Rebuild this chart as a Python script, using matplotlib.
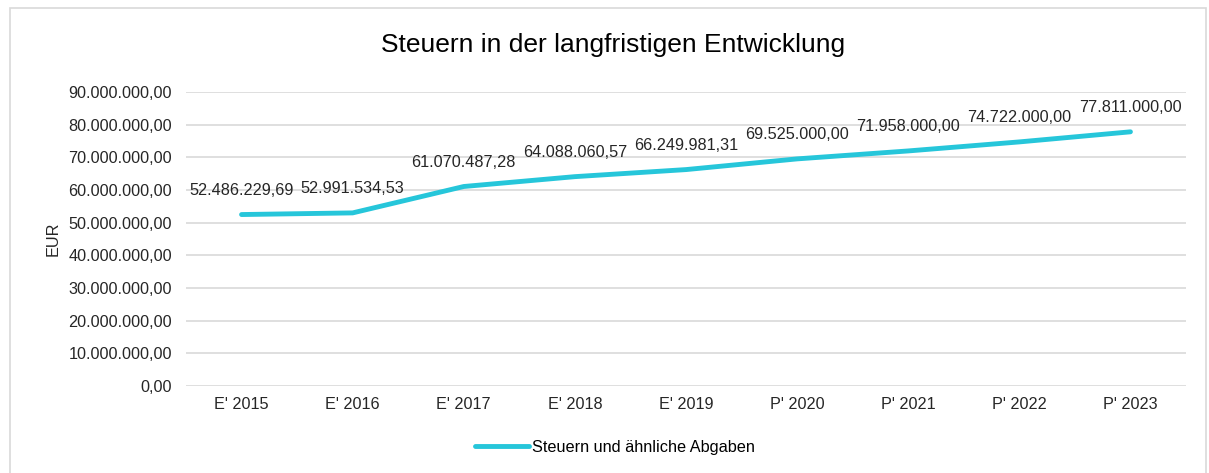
import matplotlib.pyplot as plt
from matplotlib.patches import Rectangle
from matplotlib.ticker import FuncFormatter

plt.rcParams['font.family'] = ['Liberation Sans', 'DejaVu Sans']

# Daten
jahre = ["E' 2015", "E' 2016", "E' 2017", "E' 2018", "E' 2019",
         "P' 2020", "P' 2021", "P' 2022", "P' 2023"]
steuern = [52486229.69, 52991534.53, 61070487.28, 64088060.57, 66249981.31,
           69525000.00, 71958000.00, 74722000.00, 77811000.00]
serie_name = 'Steuern und ähnliche Abgaben'


def de_format(v, pos=None):
    s = f'{v:,.2f}'
    return s.replace(',', 'X').replace('.', ',').replace('X', '.')


fig = plt.figure(figsize=(12.09, 4.73), dpi=100)
fig.patches.append(Rectangle((10 / 1209, -0.05), 1196 / 1209, 1.05 - 8 / 473,
                             transform=fig.transFigure, fill=False,
                             edgecolor='#D9D9D9', linewidth=1.2))

ax = fig.add_axes([186 / 1209, 1 - 386 / 473, 1000 / 1209, 294 / 473])
x = list(range(len(jahre)))
ax.plot(x, steuern, color='#26C6DA', linewidth=3.5, solid_capstyle='round',
        solid_joinstyle='round', label=serie_name, zorder=3)

for xi, v in zip(x, steuern):
    ax.annotate(de_format(v), (xi, v), xytext=(0, 12), textcoords='offset points',
                ha='center', va='bottom', fontsize=11.7, color='#262626')

ax.set_xlim(-0.5, len(jahre) - 0.5)
ax.set_ylim(0, 90000000)
ax.set_yticks(range(0, 90000001, 10000000))
ax.yaxis.set_major_formatter(FuncFormatter(de_format))
ax.set_xticks(x)
ax.set_xticklabels(jahre)
ax.tick_params(axis='both', length=0, labelsize=11.7, colors='#262626')
ax.tick_params(axis='y', pad=10)
ax.tick_params(axis='x', pad=8)
ax.grid(axis='y', color='#D9D9D9', linewidth=1.2)
ax.set_axisbelow(True)
for s in ax.spines.values():
    s.set_visible(False)

ax.set_ylabel('EUR', fontsize=11.7, color='#262626', labelpad=6)
fig.text(613 / 1209, 1 - 45 / 473, 'Steuern in der langfristigen Entwicklung',
         ha='center', va='center', fontsize=19, color='#000000')

fig.legend(loc='center', bbox_to_anchor=(615 / 1209, 1 - 447 / 473), frameon=False,
           fontsize=11.7, handlelength=3.3, handletextpad=0.2)

plt.savefig('out.png', dpi=100)
plt.close()
